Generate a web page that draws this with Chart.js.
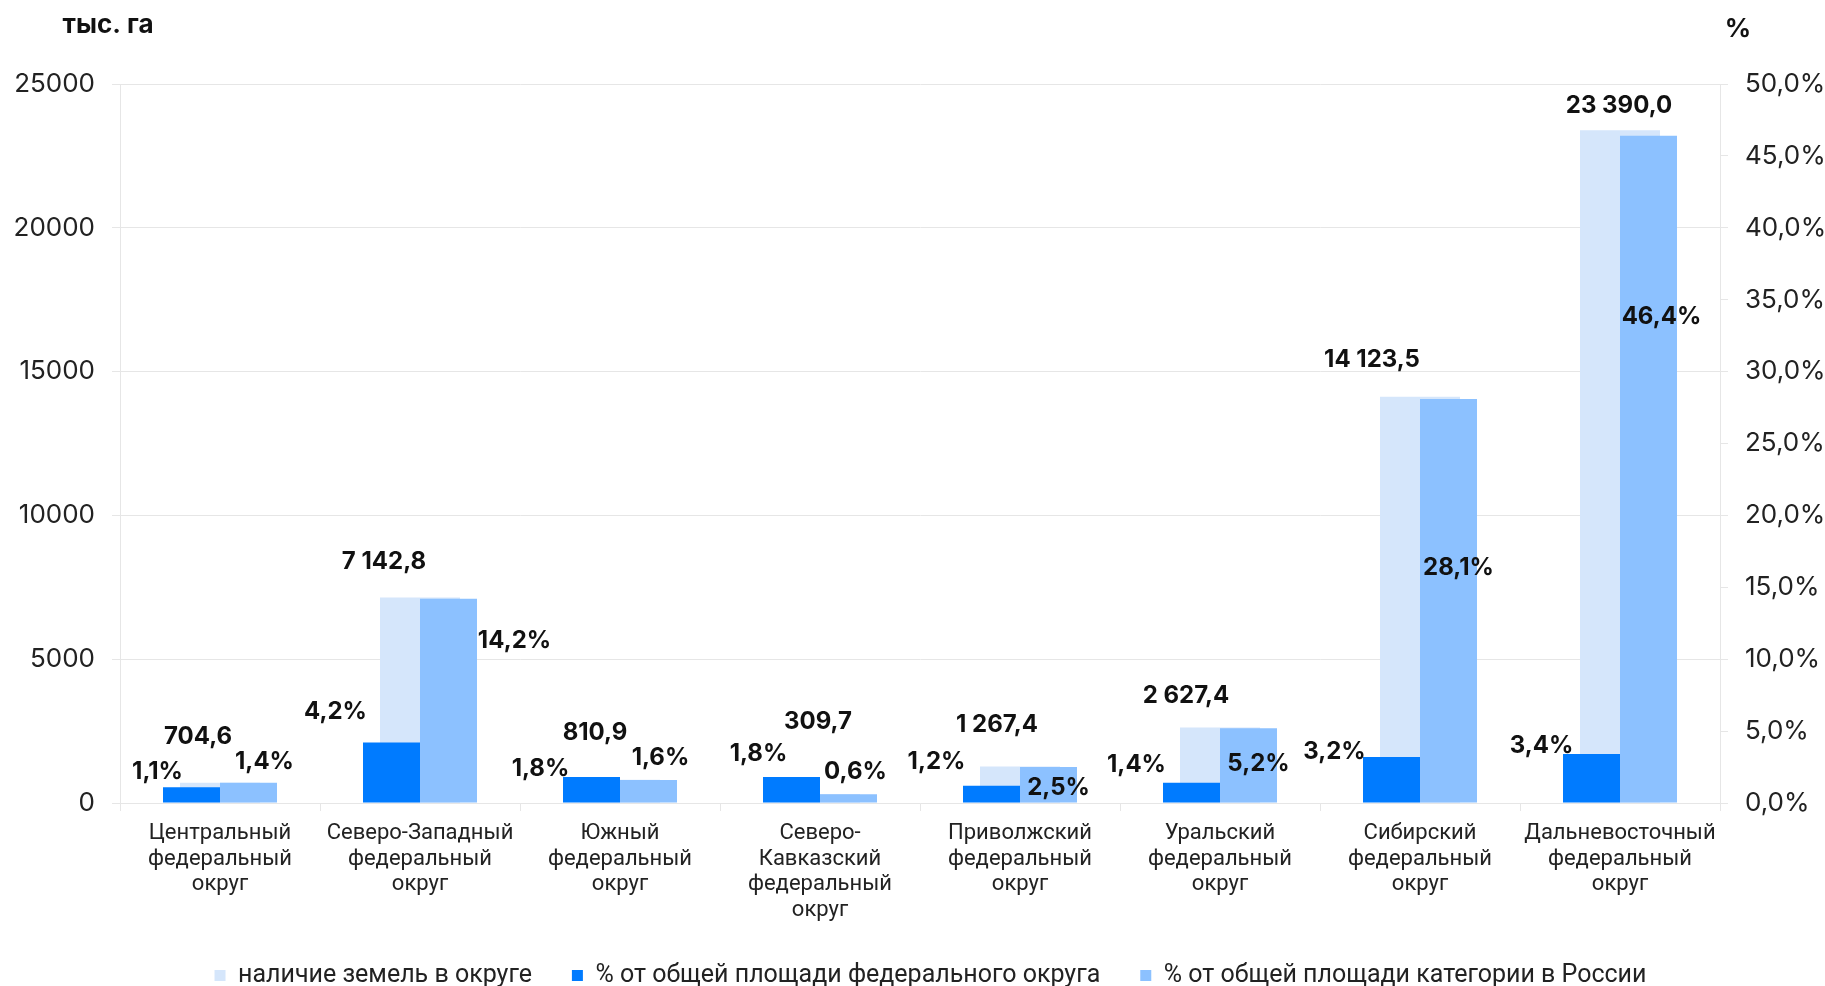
<!DOCTYPE html>
<html lang="ru">
<head>
<meta charset="utf-8">
<title>Наличие земель по федеральным округам</title>
<script src="https://cdn.jsdelivr.net/npm/chart.js@4.4.1/dist/chart.umd.min.js"></script>
<style>
  html, body { margin: 0; padding: 0; background: #fff; }
</style>
</head>
<body>
<canvas id="chart" width="1825" height="986"></canvas>
<script>
// --- data ---
const districts = [
  ['Центральный', 'федеральный', 'округ'],
  ['Северо-Западный', 'федеральный', 'округ'],
  ['Южный', 'федеральный', 'округ'],
  ['Северо-', 'Кавказский', 'федеральный', 'округ'],
  ['Приволжский', 'федеральный', 'округ'],
  ['Уральский', 'федеральный', 'округ'],
  ['Сибирский', 'федеральный', 'округ'],
  ['Дальневосточный', 'федеральный', 'округ'],
];
const seriesNames = [
  'наличие земель в округе',
  '% от общей площади федерального округа',
  '% от общей площади категории в России',
];
const landArea = [704.6, 7142.8, 810.9, 309.7, 1267.4, 2627.4, 14123.5, 23390.0]; // тыс. га
const shareOfDistrict = [1.1, 4.2, 1.8, 1.8, 1.2, 1.4, 3.2, 3.4];                // %
const shareOfRussia = [1.4, 14.2, 1.6, 0.6, 2.5, 5.2, 28.1, 46.4];               // %
const areaMax = 25000, areaStep = 5000;
const pctMax = 50, pctStep = 5;

// colours
const LIGHT = '#D5E6FB', DARK = '#007BFF', MID = '#8CC1FF';
const GRID = '#E6E6E6', TXT = '#222';

// label nudges (px from bar top-centre), one list per dataset
const labelShift = [
  [[-22, -46], [-36, -36], [-25, -47], [-2, -72], [-23, -42], [-34, -32], [-48, -37], [-1, -25]],
  [[-34, -15], [-56, -31], [-51, -8], [-33, -23], [-55, -24], [-55, -18], [-57, -5], [-50, -8]],
  [[16, -21], [66, 42], [12, -22], [7, -23], [10, 21], [10, 36], [10, 169], [13, 181]],
];

function fmtArea(v) {
  const [i, d] = v.toFixed(1).split('.');
  return i.replace(/\B(?=(\d{3})+(?!\d))/g, ' ') + ',' + d;
}
const fmtPct = v => v.toFixed(1).replace('.', ',') + '%';

// bar value labels
const valueLabels = {
  id: 'valueLabels',
  afterDatasetsDraw(chart) {
    const ctx = chart.ctx;
    ctx.save();
    ctx.font = 'bold 24px Inter';
    ctx.fillStyle = '#111';
    ctx.textAlign = 'center';
    ctx.textBaseline = 'middle';
    chart.data.datasets.forEach((ds, di) => {
      chart.getDatasetMeta(di).data.forEach((bar, i) => {
        const [dx, dy] = labelShift[di][i];
        const txt = di === 0 ? fmtArea(ds.data[i]) : fmtPct(ds.data[i]);
        ctx.fillText(txt, bar.x + dx, bar.y + dy);
      });
    });
    ctx.restore();
  }
};

// axis unit captions
const axisCaptions = {
  id: 'axisCaptions',
  afterDraw(chart) {
    const ctx = chart.ctx;
    ctx.save();
    ctx.font = 'bold 26px Inter';
    ctx.fillStyle = '#111';
    ctx.textAlign = 'center';
    ctx.textBaseline = 'middle';
    ctx.fillText('тыс. га', 108, 25);
    ctx.fillText('%', 1738, 29);
    ctx.restore();
  }
};

// legend: short box so the plot keeps its height, nudged a bit right
const legendBox = {
  id: 'legendBox',
  beforeInit(chart) {
    const fit = chart.legend.fit;
    chart.legend.fit = function () { fit.call(this); this.height = 63; };
  },
  afterLayout(chart) {
    chart.legend.left += 18;
    chart.legend.right += 18;
  }
};

new Chart(document.getElementById('chart'), {
  type: 'bar',
  data: {
    labels: districts,
    datasets: [
      { label: seriesNames[0], data: landArea, backgroundColor: LIGHT, yAxisID: 'y',
        grouped: false, categoryPercentage: 0.4, barPercentage: 1, order: 2 },
      { label: seriesNames[1], data: shareOfDistrict, backgroundColor: DARK, yAxisID: 'y2',
        categoryPercentage: 0.57, barPercentage: 1, order: 1 },
      { label: seriesNames[2], data: shareOfRussia, backgroundColor: MID, yAxisID: 'y2',
        categoryPercentage: 0.57, barPercentage: 1, order: 1 },
    ],
  },
  options: {
    responsive: false,
    animation: false,
    layout: { padding: { top: 84, left: 0, right: 0, bottom: 0 } },
    plugins: {
      tooltip: { enabled: false },
      legend: {
        position: 'bottom',
        labels: {
          boxWidth: 11, boxHeight: 11, padding: 40, color: TXT,
          font: { family: 'Roboto', size: 25 },
          sort: (a, b) => a.datasetIndex - b.datasetIndex,
        },
      },
    },
    scales: {
      x: {
        offset: true,
        grid: { offset: true, drawOnChartArea: false, tickLength: 8, color: GRID },
        border: { color: GRID },
        ticks: { color: TXT, font: { family: 'Roboto', size: 22, lineHeight: 1.16 }, padding: 10,
                 maxRotation: 0, autoSkip: false },
        afterFit(s) { s.height = 120; },
      },
      y: {
        position: 'left', min: 0, max: areaMax,
        grid: { color: GRID, tickLength: 8 },
        border: { color: GRID },
        ticks: { stepSize: areaStep, color: TXT, font: { family: 'Inter', size: 26 }, padding: 17,
                 callback: v => String(v) },
        afterFit(s) { s.width = 120; },
      },
      y2: {
        position: 'right', min: 0, max: pctMax,
        grid: { drawOnChartArea: false, color: GRID, tickLength: 8 },
        border: { color: GRID },
        ticks: { stepSize: pctStep, color: TXT, font: { family: 'Inter', size: 26 }, padding: 17,
                 callback: v => fmtPct(v) },
        afterFit(s) { s.width = 105; },
      },
    },
  },
  plugins: [valueLabels, axisCaptions, legendBox],
});
</script>
</body>
</html>
